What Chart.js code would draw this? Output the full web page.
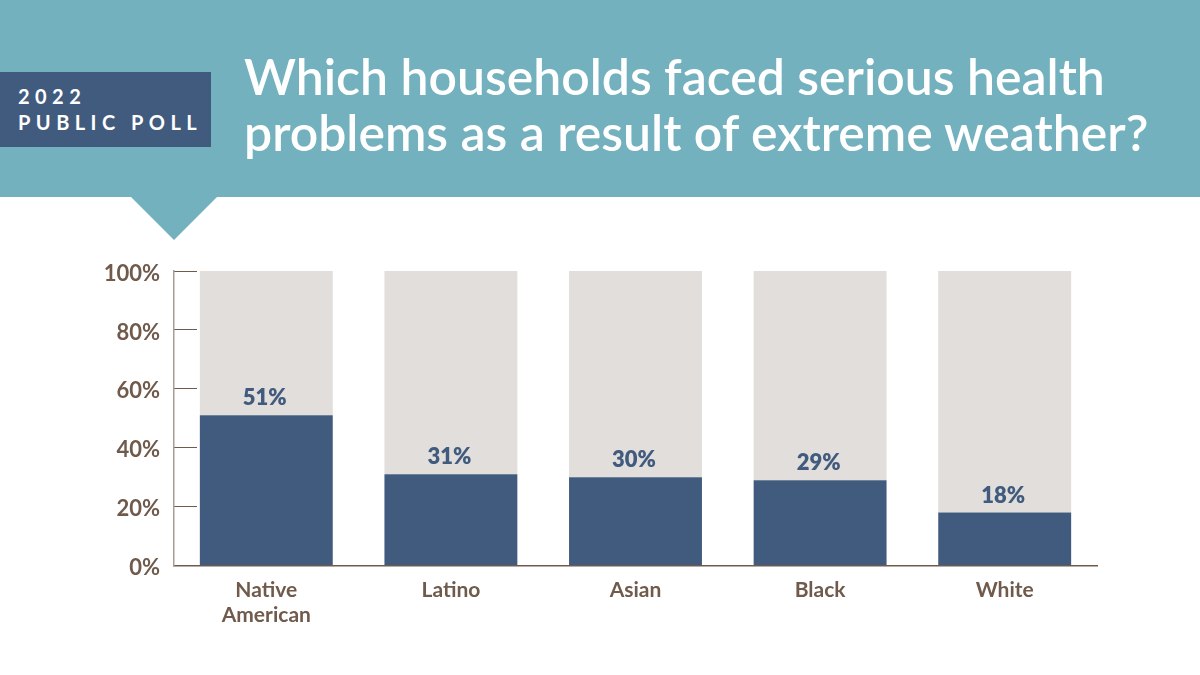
<!DOCTYPE html>
<html>
<head>
<meta charset="utf-8">
<script src="https://cdn.jsdelivr.net/npm/chart.js@4"></script>
<style>
  html, body { margin: 0; padding: 0; background: #fff; }
  body { width: 1200px; height: 675px; position: relative; overflow: hidden; font-family: Lato, sans-serif; }
  .banner { position: absolute; left: 0; top: 0; width: 1200px; height: 197px; background: #72b1bd; }
  .pointer { position: absolute; left: 131px; top: 197px; width: 0; height: 0;
    border-left: 43px solid transparent; border-right: 43px solid transparent; border-top: 43px solid #72b1bd; }
  .badge { position: absolute; left: 0; top: 72px; width: 211px; height: 75px; background: #415b7e; color: #fff;
    font-weight: 700; font-size: 20px; line-height: 26px; letter-spacing: 5.45px; box-sizing: border-box; padding: 11px 0 0 18px; white-space: nowrap; }
  h1 { position: absolute; left: 244px; top: 48px; margin: 0; color: #fff; font-weight: 600; font-size: 49.9px; line-height: 56px; white-space: nowrap; }
  #wrap { position: absolute; left: 0; top: 0; width: 1200px; height: 675px; }
</style>
</head>
<body>
<div class="banner"></div>
<div class="pointer"></div>
<div class="badge">2022<br>PUBLIC POLL</div>
<h1>Which households faced serious health<br>problems as a result of extreme weather?</h1>
<div id="wrap"><canvas id="grafico"></canvas></div>
<script>
const categories = [['Native', 'American'], 'Latino', 'Asian', 'Black', 'White'];
const faced = [51, 31, 30, 29, 18];
const remainder = [49, 69, 70, 71, 82];
const brown = '#6f5a4b';
const navy = '#415b7e';

// Valores acima de cada barra
const valueLabels = {
    id: 'valueLabels',
    afterDatasetsDraw(chart) {
        const ctx = chart.ctx;
        ctx.save();
        ctx.fillStyle = navy;
        ctx.font = '800 22px Lato';
        ctx.textAlign = 'center';
        ctx.textBaseline = 'bottom';
        chart.getDatasetMeta(0).data.forEach((bar, i) => {
            ctx.fillText(faced[i] + '%', bar.x - 1.5, bar.y - 6);
        });
        ctx.restore();
    }
};

new Chart(document.getElementById('grafico'), {
    type: 'bar',
    data: {
        labels: categories,
        datasets: [
            { label: 'Faced problems', data: faced, backgroundColor: navy },
            { label: 'Others', data: remainder, backgroundColor: '#e1dedb' }
        ]
    },
    plugins: [valueLabels],
    options: {
        responsive: true,
        maintainAspectRatio: false,
        animation: false,
        layout: { padding: { left: 100, right: 103, top: 271, bottom: 43 } },
        datasets: { bar: { categoryPercentage: 1, barPercentage: 0.72 } },
        plugins: { legend: { display: false }, tooltip: { enabled: false } },
        scales: {
            x: {
                stacked: true,
                grid: { display: false },
                border: { color: brown, width: 1.5 },
                ticks: { color: brown, font: { family: 'Lato', size: 21, weight: '700' }, padding: 4, maxRotation: 0 }
            },
            y: {
                stacked: true,
                min: 0,
                max: 100,
                afterFit(axis) { axis.width = 74; },
                grid: { drawOnChartArea: false, tickLength: -23, tickColor: brown, tickWidth: 1 },
                border: { color: '#a89e96', width: 1.5 },
                ticks: {
                    stepSize: 20,
                    color: brown,
                    padding: 37,
                    labelOffset: 2.5,
                    font: { family: 'Lato', size: 22, weight: '700' },
                    callback: (value) => value + '%'
                }
            }
        }
    }
});
</script>
</body>
</html>
